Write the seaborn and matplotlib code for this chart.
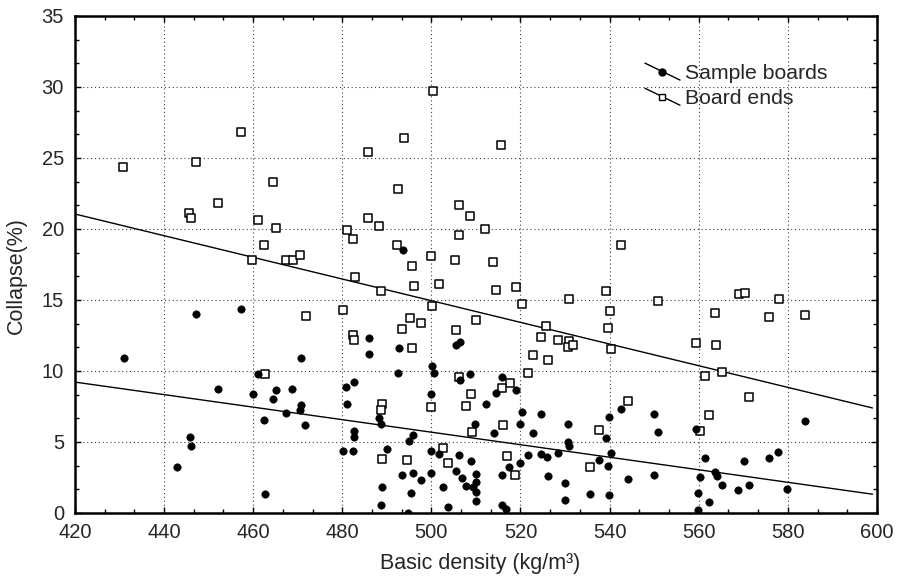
import numpy as np
import pandas as pd
import matplotlib
matplotlib.use("Agg")
import matplotlib.pyplot as plt
import seaborn as sns
from matplotlib.lines import Line2D
from matplotlib.legend_handler import HandlerBase
from matplotlib.ticker import MultipleLocator, AutoMinorLocator

# Board ends (open squares)
ends_density = [430.8, 457.2, 447.1, 464.5, 452.0, 445.6, 446.0, 461.0, 465.2, 481.0, 462.4, 459.8, 467.3, 468.9, 470.6,
                500.4, 493.8, 485.8, 515.7, 492.6, 506.2, 508.6, 485.8, 488.3, 512.1, 482.5, 506.3, 492.2, 499.9, 505.3,
                513.9, 495.6, 542.6, 471.8, 480.1, 462.7,
                482.8, 488.6, 496.0, 501.8, 514.5, 518.9, 539.3, 500.2, 520.4, 530.9, 495.1, 493.4, 497.7, 509.9, 505.6,
                482.3, 482.6, 495.6, 525.8, 524.6, 528.5, 530.9, 530.7, 531.8, 522.8, 526.2, 521.7, 506.1, 517.7, 515.9,
                509.0, 507.8, 500.0, 488.9, 488.7, 516.1, 509.1, 537.7, 502.6, 488.8, 494.6, 503.8, 516.9, 518.8, 535.7,
                540.2, 539.6, 540.4, 550.9, 544.2, 559.3, 563.6, 563.9, 561.4, 565.2, 562.4, 560.3, 569.1, 570.5, 578.1,
                575.8, 583.9, 571.3]
ends_collapse = [24.4, 26.8, 24.7, 23.3, 21.8, 21.1, 20.8, 20.6, 20.1, 19.9, 18.9, 17.8, 17.8, 17.8, 18.2,
                 29.7, 26.4, 25.4, 25.9, 22.8, 21.7, 20.9, 20.8, 20.2, 20.0, 19.3, 19.6, 18.9, 18.1, 17.8,
                 17.7, 17.4, 18.9, 13.9, 14.3, 9.8,
                 16.6, 15.6, 16.0, 16.1, 15.7, 15.9, 15.6, 14.6, 14.7, 15.05, 13.7, 12.95, 13.4, 13.6, 12.9,
                 12.55, 12.15, 11.6, 13.2, 12.4, 12.15, 12.1, 11.7, 11.85, 11.1, 10.8, 9.85, 9.55, 9.15, 8.8,
                 8.35, 7.55, 7.45, 7.65, 7.25, 6.2, 5.7, 5.85, 4.55, 3.8, 3.7, 3.5, 4.0, 2.7, 3.25,
                 14.2, 13.0, 11.55, 14.9, 7.9, 11.95, 14.05, 11.85, 9.65, 9.95, 6.9, 5.8, 15.45, 15.5, 15.05,
                 13.8, 13.95, 8.15]

# Sample boards (filled circles)
sample_density = [493.6,
                  447.2, 457.2, 430.9, 470.7, 461.0, 452.1, 459.9, 465.2, 468.8, 464.4, 470.7, 470.4, 467.3, 462.4,
                  471.7, 480.9, 481.0, 445.8, 446.1, 480.1, 443.0, 462.6,
                  486.0, 486.0, 492.7, 505.5, 506.4, 500.1, 500.5, 492.4, 508.7, 506.4, 515.8, 482.7, 514.5, 518.9,
                  500.0, 512.2, 520.3, 524.5, 488.3, 488.6, 509.8, 530.7, 519.8, 482.6, 482.6, 495.9, 495.0, 514.1,
                  522.8, 530.7, 530.9, 539.3, 482.3, 490.1, 500.0, 501.7, 506.1, 508.9, 521.7, 524.7, 525.9, 528.4,
                  537.7, 539.7, 517.5, 519.8, 493.3, 495.8, 497.6, 499.9, 505.5, 506.9, 509.9, 515.8, 526.1, 509.9,
                  507.8, 509.3, 509.9, 488.9, 495.5, 502.6, 530.0, 535.7, 530.0, 509.9, 488.6, 503.7, 515.9, 516.8,
                  494.7,
                  539.9, 542.6, 549.9, 550.8, 540.4, 544.2, 549.9, 539.9, 559.3, 561.4, 560.3, 563.6, 564.0, 565.2,
                  559.8, 562.4, 559.8, 568.8, 571.2, 570.2, 575.7, 577.9, 579.9, 583.9]
sample_collapse = [18.5,
                   14.0, 14.4, 10.9, 10.9, 9.8, 8.7, 8.35, 8.65, 8.7, 8.05, 7.6, 7.25, 7.05, 6.55,
                   6.2, 8.9, 7.65, 5.35, 4.7, 4.35, 3.25, 1.35,
                   12.3, 11.2, 11.65, 11.8, 12.05, 10.35, 9.85, 9.85, 9.8, 9.4, 9.6, 9.25, 8.45, 8.65,
                   8.35, 7.7, 7.1, 6.95, 6.7, 6.25, 6.25, 6.3, 6.25, 5.75, 5.35, 5.5, 5.05, 5.65,
                   5.65, 5.0, 4.7, 5.25, 4.4, 4.5, 4.35, 4.15, 4.05, 3.65, 4.1, 4.15, 3.95, 4.2,
                   3.7, 3.3, 3.25, 3.5, 2.65, 2.85, 2.35, 2.85, 2.95, 2.45, 2.75, 2.65, 2.6, 2.2,
                   1.9, 1.85, 1.45, 1.8, 1.4, 1.8, 2.1, 1.35, 0.9, 0.85, 0.55, 0.4, 0.55, 0.3,
                   0.0,
                   6.75, 7.35, 7.0, 5.7, 4.2, 2.4, 2.65, 1.25, 5.9, 3.85, 2.5, 2.9, 2.6, 1.95,
                   1.4, 0.8, 0.2, 1.65, 1.95, 3.65, 3.9, 4.3, 1.7, 6.5]

# fitted lines as drawn in the figure: collapse = intercept + slope * density
fit_labels = ["Sample boards", "Board ends"]
fit_intercept = [27.74, 53.1]
fit_slope = [-0.0441, -0.0763]
fit_range = [420, 599]

sns.set_style("ticks")
plt.rcParams['font.family'] = ['Liberation Sans', 'DejaVu Sans']

fig = plt.figure(figsize=(8.97, 5.79), dpi=100)
ax = fig.add_axes([0.0836, 0.114, 0.894, 0.8584])

sns.scatterplot(x=ends_density, y=ends_collapse, marker='s', s=30, facecolor='white',
                edgecolor='black', linewidth=1.1, ax=ax, zorder=3)
sns.scatterplot(x=sample_density, y=sample_collapse, marker='o', s=28, color='black',
                edgecolor='black', linewidth=0.5, ax=ax, zorder=4)

xs = np.array(fit_range, dtype=float)
for b0, b1 in zip(fit_intercept, fit_slope):
    sns.lineplot(x=xs, y=b0 + b1 * xs, color='black', linewidth=1.0, ax=ax, zorder=2)

ax.set_xlim(420, 600)
ax.set_ylim(0, 35)
ax.xaxis.set_major_locator(MultipleLocator(20))
ax.yaxis.set_major_locator(MultipleLocator(5))
ax.xaxis.set_minor_locator(AutoMinorLocator(3))
ax.yaxis.set_minor_locator(AutoMinorLocator(3))
ax.tick_params(which='both', direction='in', top=True, right=True, color='black')
ax.tick_params(which='major', length=4, width=1, labelsize=14.5)
ax.tick_params(axis='y', which='major', pad=8)
ax.tick_params(axis='x', which='major', pad=7)
ax.tick_params(which='minor', length=3, width=1)
ax.grid(True, which='major', color='0.25', linestyle=(0, (1, 2.5)), linewidth=0.8)
for sp in ax.spines.values():
    sp.set_linewidth(1.8)
    sp.set_color('black')

ax.set_xlabel("Basic density (kg/m³)", fontsize=15.5)
ax.set_ylabel("Collapse(%)", fontsize=15.5)
ax.xaxis.set_label_coords(0.505, -0.08)
ax.yaxis.set_label_coords(-0.06, 0.478)


class SlantHandler(HandlerBase):
    def create_artists(self, legend, orig_handle, xdescent, ydescent, width, height, fontsize, trans):
        x = np.array([-xdescent, -xdescent + width])
        y = np.array([height * 1.0 - ydescent, height * 0.0 - ydescent])
        seg = Line2D(x, y, color='black', linewidth=1.0, transform=trans)
        mark = Line2D([x.mean()], [y.mean()], marker=orig_handle.get_marker(), markersize=5,
                      markerfacecolor=orig_handle.get_markerfacecolor(), markeredgecolor='black',
                      markeredgewidth=1.0, linestyle='none', transform=trans)
        return [seg, mark]


handles = [Line2D([], [], marker='o', markerfacecolor='black', linestyle='none'),
           Line2D([], [], marker='s', markerfacecolor='white', linestyle='none')]
ax.legend(handles, fit_labels, handler_map={Line2D: SlantHandler()}, frameon=False,
          loc='upper left', bbox_to_anchor=(0.719, 0.891), bbox_transform=fig.transFigure,
          borderaxespad=0, borderpad=0, handlelength=1.65, handleheight=0.85, handletextpad=0.25,
          labelspacing=0.25, fontsize=15.3)

fig.savefig("out.png", dpi=100)
